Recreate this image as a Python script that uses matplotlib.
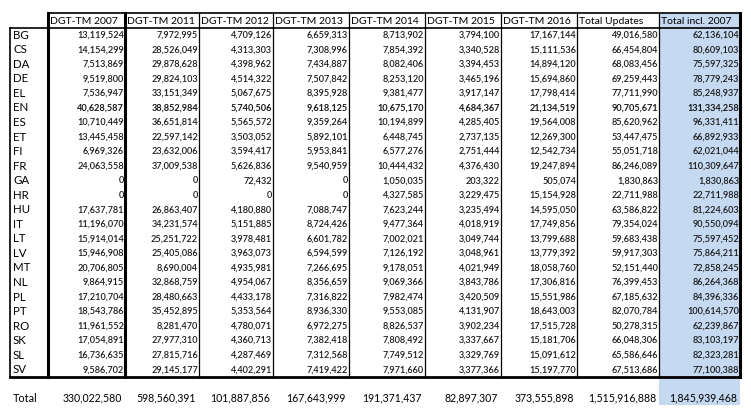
import matplotlib.pyplot as plt

# Languages (rows) and column headers
languages = ["BG", "CS", "DA", "DE", "EL", "EN", "ES", "ET", "FI", "FR", "GA", "HR",
             "HU", "IT", "LT", "LV", "MT", "NL", "PL", "PT", "RO", "SK", "SL", "SV"]
headers = ["DGT-TM 2007", "DGT-TM 2011", "DGT-TM 2012", "DGT-TM 2013", "DGT-TM 2014",
           "DGT-TM 2015", "DGT-TM 2016", "Total Updates", "Total incl. 2007"]

tm_2007 = [13119524, 14154299, 7513869, 9519800, 7536947, 40628587, 10710449, 13445458,
           6969326, 24063558, 0, 0, 17637781, 11196070, 15914014, 15946908, 20706805,
           9864915, 17210704, 18543786, 11961552, 17054891, 16736635, 9586702]
tm_2011 = [7972995, 28526049, 29878628, 29824103, 33151349, 38852984, 36651814, 22597142,
           23632006, 37009538, 0, 0, 26863407, 34231574, 25251722, 25405086, 8690004,
           32868759, 28480663, 35452895, 8281470, 27977310, 27815716, 29145177]
tm_2012 = [4709126, 4313303, 4398962, 4514322, 5067675, 5740506, 5565572, 3503052,
           3594417, 5626836, 72432, 0, 4180880, 5151885, 3978481, 3963073, 4935981,
           4954067, 4433178, 5353564, 4780071, 4360713, 4287469, 4402291]
tm_2013 = [6659313, 7308996, 7434887, 7507842, 8395928, 9618125, 9359264, 5892101,
           5953841, 9540959, 0, 0, 7088747, 8724426, 6601782, 6594599, 7266695,
           8356659, 7316822, 8936330, 6972275, 7382418, 7312568, 7419422]
tm_2014 = [8713902, 7854392, 8082406, 8253120, 9381477, 10675170, 10194899, 6448745,
           6577276, 10444432, 1050035, 4327585, 7623244, 9477364, 7002021, 7126192,
           9178051, 9069366, 7982474, 9553085, 8826537, 7808492, 7749512, 7971660]
tm_2015 = [3794100, 3340528, 3394453, 3465196, 3917147, 4684367, 4285405, 2737135,
           2751444, 4376430, 203322, 3229475, 3235494, 4018919, 3049744, 3048961,
           4021949, 3843786, 3420509, 4131907, 3902234, 3337667, 3329769, 3377366]
tm_2016 = [17167144, 15111536, 14894120, 15694860, 17798414, 21134519, 19564008, 12269300,
           12542734, 19247894, 505074, 15154928, 14595050, 17749856, 13799688, 13779392,
           18058760, 17306816, 15551986, 18643003, 17515728, 15181706, 15091612, 15197770]
total_updates = [49016580, 66454804, 68083456, 69259443, 77711990, 90705671, 85620962,
                 53447475, 55051718, 86246089, 1830863, 22711988, 63586822, 79354024,
                 59683438, 59917303, 52151440, 76399453, 67185632, 82070784, 50278315,
                 66048306, 65586646, 67513686]
total_incl_2007 = [62136104, 80609103, 75597325, 78779243, 85248937, 131334258, 96331411,
                   66892933, 62021044, 110309647, 1830863, 22711988, 81224603, 90550094,
                   75597452, 75864211, 72858245, 86264368, 84396336, 100614570, 62239867,
                   83103197, 82323281, 77100388]
column_totals = [330022580, 598560391, 101887856, 167643999, 191371437, 82897307,
                 373555898, 1515916888, 1845939468]

columns = [tm_2007, tm_2011, tm_2012, tm_2013, tm_2014, tm_2015, tm_2016,
           total_updates, total_incl_2007]

plt.rcParams['font.family'] = ['Lato', 'DejaVu Sans']

fig = plt.figure(figsize=(7.51, 4.19), dpi=100)
ax = fig.add_axes([0, 0, 1, 1])
ax.set_xlim(0, 751)
ax.set_ylim(419, 0)
ax.axis('off')

# layout in pixels
edges = [48, 125, 199, 273, 349, 425, 501, 577, 659, 740]
label_left = 10
head_top = 13
head_bot = 28
body_bot = 377
row_h = (body_bot - head_bot) / len(languages)
total_y = 398

# blue shading for the last column
ax.add_patch(plt.Rectangle((edges[-2], head_top), edges[-1] - edges[-2], 405 - head_top,
                           facecolor='#c5d9f1', edgecolor='none', zorder=0))

# grid lines
ax.plot([edges[0], edges[-1]], [head_top, head_top], color='black', lw=1.2)
ax.plot([label_left, edges[-1]], [head_bot, head_bot], color='black', lw=1.2)
ax.plot([label_left, edges[-1]], [body_bot, body_bot], color='black', lw=2)
ax.plot([label_left, label_left], [head_bot, body_bot], color='black', lw=1.2)
for k, x in enumerate(edges):
    thick = k in (0, 1, len(edges) - 1)
    ax.plot([x, x], [head_top, body_bot], color='black', lw=2.2 if thick else 0.9)

for k, h in enumerate(headers):
    ax.text(edges[k] + 2, (head_top + head_bot) / 2 + 0.5, h, ha='left', va='center',
            fontsize=7.5, color='black')

for i, lang in enumerate(languages):
    y = head_bot + (i + 0.5) * row_h
    bold = lang == "EN"
    ax.text(label_left + 3, y, lang, ha='left', va='center', fontsize=8.3, color='black')
    for k, col in enumerate(columns):
        ax.text(edges[k + 1] - 1, y, f"{col[i]:,}", ha='right', va='center',
                fontsize=6.6, color='#1a1a1a',
                fontweight='bold' if bold else 'semibold')

ax.text(label_left + 3, total_y, "Total", ha='left', va='center', fontsize=7.8)
for k, t in enumerate(column_totals):
    ax.text(edges[k + 1] - 3, total_y, f"{t:,}", ha='right', va='center', fontsize=7.6)

fig.savefig('out.png', dpi=100)
